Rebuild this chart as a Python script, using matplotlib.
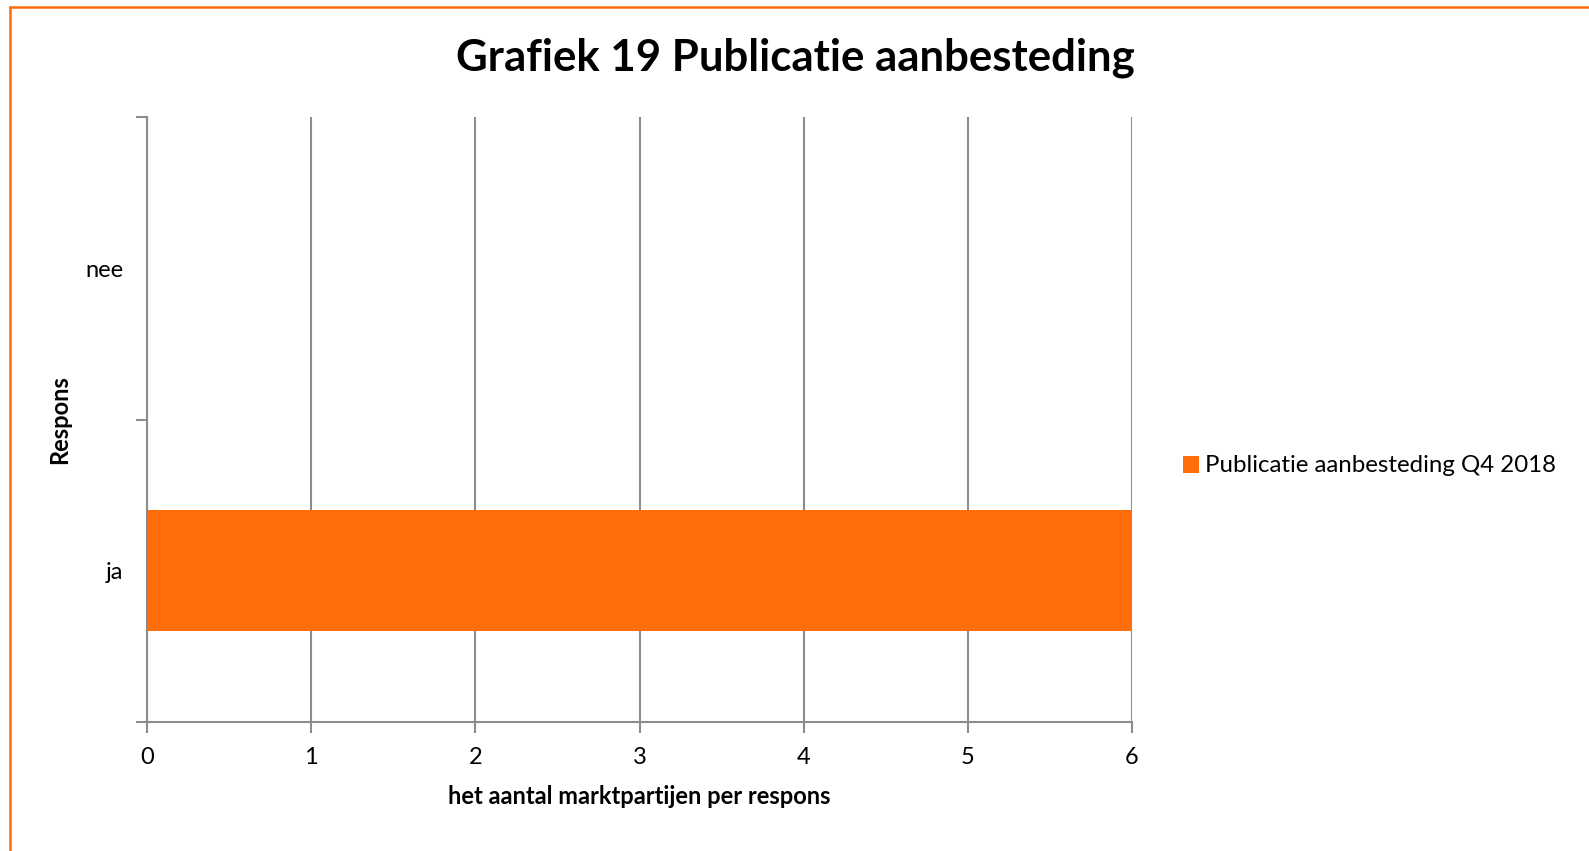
import numpy as np
import matplotlib.pyplot as plt
from matplotlib.lines import Line2D

plt.rcParams['font.family'] = ['Lato', 'DejaVu Sans']

categories = ['ja', 'nee']
values = [6, 0]
series_name = 'Publicatie aanbesteding Q4 2018'
xticks = [0, 1, 2, 3, 4, 5, 6]

orange = '#ff6d0a'
grey = '#8c8c8c'

fig = plt.figure(figsize=(15.89, 8.51), dpi=100)
ax = fig.add_axes([147 / 1589, 1 - 722 / 851, (1132 - 147) / 1589, (722 - 117) / 851])

y = np.arange(len(categories))
ax.barh(y, values, height=0.4, color=orange, label=series_name, zorder=3)

ax.set_xlim(0, 6)
ax.set_ylim(-0.5, 1.5)
ax.set_xticks(xticks)
ax.set_xticklabels([str(v) for v in xticks], fontsize=17)
ax.set_yticks(y)
ax.set_yticklabels(categories, fontsize=17)
ax.set_yticks([-0.5, 0.5, 1.5], minor=True)
ax.tick_params(axis='y', which='major', length=0, pad=17)
ax.tick_params(axis='y', which='minor', length=8, width=1.5, color=grey, direction='out')
ax.tick_params(axis='x', length=8, width=1.5, color=grey, direction='out', pad=10)

ax.grid(axis='x', color=grey, linewidth=1.5, zorder=0)
for s in ['top', 'right']:
    ax.spines[s].set_visible(False)
for s in ['left', 'bottom']:
    ax.spines[s].set_color(grey)
    ax.spines[s].set_linewidth(1.5)

ax.set_xlabel('het aantal marktpartijen per respons', fontsize=17, fontweight='bold', labelpad=12)
ax.set_ylabel('Respons', fontsize=17, fontweight='bold')
ax.yaxis.set_label_coords((71 - 147) / 985, 0.5)

fig.text(0.5 * (455 + 1135) / 1589, 1 - 58 / 851, 'Grafiek 19 Publicatie aanbesteding',
         ha='center', va='center', fontsize=31.5, fontweight='bold')

handles, labels = ax.get_legend_handles_labels()
leg = fig.legend(handles, labels, loc='center left', bbox_to_anchor=(1161 / 1589, 1 - 466 / 851),
                 frameon=False, fontsize=17.3, handlelength=0.7, handleheight=0.7, handletextpad=0.25)

# orange border (top and left only, rest cropped)
fig.add_artist(Line2D([9.5 / 1589, 1], [1 - 6.5 / 851, 1 - 6.5 / 851], color=orange, linewidth=1.8,
                      transform=fig.transFigure))
fig.add_artist(Line2D([9.5 / 1589, 9.5 / 1589], [0, 1 - 6.5 / 851], color=orange, linewidth=1.8,
                      transform=fig.transFigure))

fig.savefig('out.png', dpi=100, facecolor='white')
